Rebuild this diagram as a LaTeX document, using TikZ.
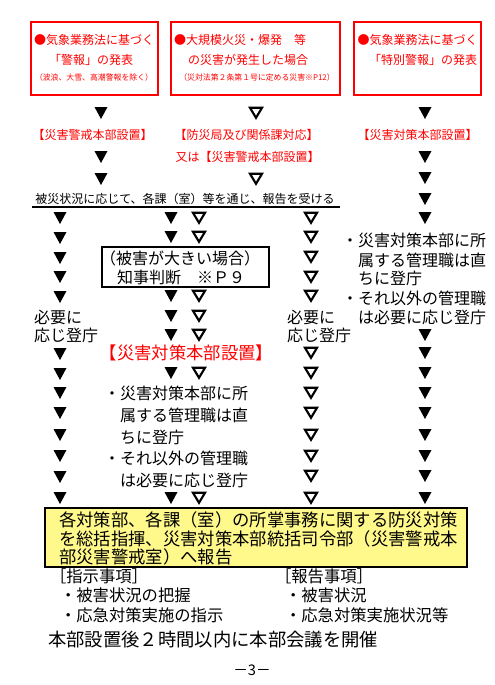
\documentclass[tikz,border=0pt]{standalone}
\usepackage{fontspec}
\setmainfont{Noto Sans CJK JP}
\begin{document}
\begin{tikzpicture}[x=0.75pt,y=-0.75pt,
  every node/.style={inner sep=0pt,outer sep=0pt},
  redbox/.style={draw=red,line width=0.8pt},
  blackbox/.style={draw=black,line width=1.1pt},
  yellowbox/.style={draw=black,line width=1.1pt,fill=yellow!45},
  fsmall/.style={font=\fontsize{5.9}{7}\selectfont},
  fnine/.style={font=\fontsize{9}{11}\selectfont},
  ftwelve/.style={font=\fontsize{12}{14}\selectfont},
  fbig/.style={font=\fontsize{13}{13.9}\selectfont},
  flist/.style={font=\fontsize{12.25}{14}\selectfont},
  fmeet/.style={font=\fontsize{13.75}{15}\selectfont},
  redtext/.style={text=red},
  tf/.pic={\fill (-6.5,-6) -- (6.5,-6) -- (0,6) -- cycle;},
  th/.pic={\draw[line width=1.6pt,line join=miter] (-6,-5.2) -- (6,-5.2) -- (0,4.8) -- cycle;}
]
\useasboundingbox (0,0) rectangle (494,685);
\fill[white] (0,0) rectangle (494,685);

% top boxes
\node[redbox,minimum width=95.25pt,minimum height=54.75pt] (box1) at (94.5,58.5) {};
\node[redbox,minimum width=126.75pt,minimum height=54.75pt] (box2) at (255.5,58.5) {};
\node[redbox,minimum width=95.25pt,minimum height=54.75pt] (box3) at (417.5,58.5) {};

\node[fnine,redtext] (b1l1) at (94,40) {●気象業務法に基づく};
\node[fnine,redtext] (b1l2) at (91,60) {「警報」の発表};
\node[fsmall,redtext] (b1l3) at (94,78) {（波浪、大雪、高潮警報を除く）};

\node[fnine,redtext,anchor=west] (b2l1) at (174,40) {●大規模火災・爆発　等};
\node[fnine,redtext] (b2l2) at (248,60) {の災害が発生した場合};
\node[fsmall,redtext] (b2l3) at (257,78) {（災対法第２条第１号に定める災害※P12）};

\node[fnine,redtext] (b3l1) at (417.5,40) {●気象業務法に基づく};
\node[fnine,redtext] (b3l2) at (423,60) {「特別警報」の発表};

% red labels
\node[fnine,redtext] (r1) at (92.5,135) {【災害警戒本部設置】};
\node[fnine,redtext] (r2) at (246.5,135) {【防災局及び関係課対応】};
\node[fnine,redtext] (r3) at (417.5,135) {【災害対策本部設置】};
\node[fnine,redtext] (r4) at (247.5,157) {又は【災害警戒本部設置】};

% report line
\node[fnine] (report) at (185,199) {被災状況に応じて、各課（室）等を通じ、報告を受ける};
\coordinate (ul1) at (32,207);
\coordinate (ul2) at (340,207);
\draw[line width=0.9pt] (ul1) -- (ul2);

% judge box
\node[blackbox,fill=white,minimum width=125.25pt,minimum height=30pt] (judge) at (185.5,267) {};
\node[ftwelve] (judge1) at (180,258) {（被害が大きい場合）};
\node[ftwelve,anchor=west] (judge2) at (117,277) {知事判断　※Ｐ９};

% side texts
\node[ftwelve,anchor=west] (needA1) at (34,317) {必要に};
\node[ftwelve,anchor=west] (needA2) at (34,335) {応じ登庁};
\node[ftwelve,anchor=west] (needC1) at (287,317) {必要に};
\node[ftwelve,anchor=west] (needC2) at (287,335) {応じ登庁};

\node[ftwelve,anchor=west] (d1) at (342,240) {・災害対策本部に所};
\node[ftwelve,anchor=west] (d2) at (342,260) {　属する管理職は直};
\node[ftwelve,anchor=west] (d3) at (342,278) {　ちに登庁};
\node[ftwelve,anchor=west] (d4) at (342,298) {・それ以外の管理職};
\node[ftwelve,anchor=west] (d5) at (342,317) {　は必要に応じ登庁};

\node[fbig,redtext] (hq) at (186.5,353) {【災害対策本部設置】};

\node[ftwelve,anchor=west] (m1) at (104,393) {・災害対策本部に所};
\node[ftwelve,anchor=west] (m2) at (104,415) {　属する管理職は直};
\node[ftwelve,anchor=west] (m3) at (104,437) {　ちに登庁};
\node[ftwelve,anchor=west] (m4) at (104,458) {・それ以外の管理職};
\node[ftwelve,anchor=west] (m5) at (104,480) {　は必要に応じ登庁};

% triangles
\foreach \y in {113,157,179} \pic at (101,\y) {tf};
\foreach \y in {113,179} \pic at (256,\y) {th};
\foreach \y in {218,238,258,277,297,354,374,393,413,435,456,477,498} \pic at (60,\y) {tf};
\foreach \y in {218,237,296,316,335,373,498} {\pic at (171,\y) {tf}; \pic at (199,\y) {th};}
\foreach \y in {218,237,257,277,296,353,373,393,413,435,456,476,498} \pic at (311,\y) {th};
\foreach \y in {113,157,178,199,218,335,353,373,393,413,435,456,476,498} \pic at (425,\y) {tf};

% yellow box
\node[yellowbox,minimum width=316.5pt,minimum height=44.25pt] (ybox) at (256,537.5) {};
\node[fbig,anchor=west] (y1) at (59,520) {各対策部、各課（室）の所掌事務に関する防災対策};
\node[fbig,anchor=west] (y2) at (59,538.5) {を総括指揮、災害対策本部統括司令部（災害警戒本};
\node[fbig,anchor=west] (y3) at (59,556.5) {部災害警戒室）へ報告};

% bottom lists
\node[flist,anchor=west] (inst) at (50,576) {［指示事項］};
\node[flist,anchor=west] (inst1) at (60,595) {・被害状況の把握};
\node[flist,anchor=west] (inst2) at (60,615) {・応急対策実施の指示};
\node[flist,anchor=west] (rep) at (275,576) {［報告事項］};
\node[flist,anchor=west] (rep1) at (285,595) {・被害状況};
\node[flist,anchor=west] (rep2) at (285,615) {・応急対策実施状況等};

\node[fmeet,anchor=west] (meeting) at (48,640) {本部設置後２時間以内に本部会議を開催};
\node[font=\fontsize{11}{13}\selectfont] (page) at (252,670) {－3－};
\end{tikzpicture}
\end{document}
